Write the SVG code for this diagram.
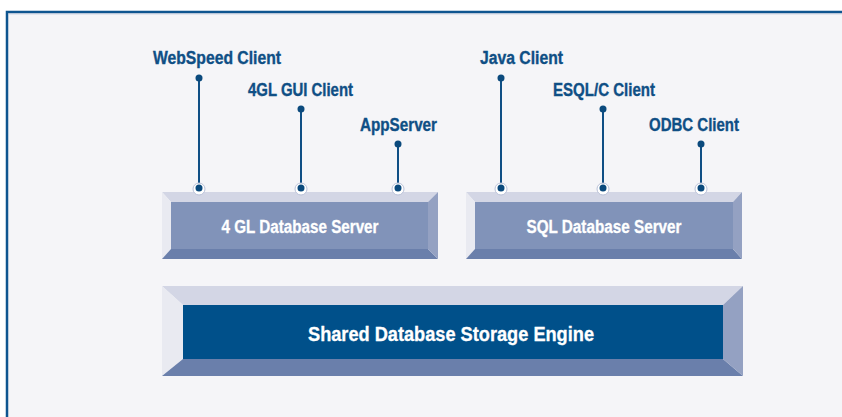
<svg xmlns="http://www.w3.org/2000/svg" width="842" height="417" viewBox="0 0 842 417">
<style>
.lbl{font-family:"Liberation Sans Narrow","Liberation Sans",Arial,sans-serif;font-weight:bold;font-size:18px;fill:#0f4f85;stroke:#0f4f85;stroke-width:0.35}
.btxt{font-family:"Liberation Sans Narrow","Liberation Sans",Arial,sans-serif;font-weight:bold;font-size:18px;fill:#ffffff;stroke:#ffffff;stroke-width:0.3}
.line{stroke:#0f4f85;stroke-width:2;fill:none}
.dot{fill:#0b4a7d}
.halo{fill:#ffffff;stroke:#b9c1d8;stroke-width:1}
.bt{fill:#d3d6e5}.bl{fill:#e9eaf1}.bb{fill:#6a7fab}.br{fill:#94a1c2}
</style>
<rect x="0" y="0" width="842" height="417" fill="#ffffff"/>
<rect x="7" y="12" width="845" height="415" fill="#f5f5f8" stroke="#0e5590" stroke-width="2.5"/>
<line x1="8.5" y1="13.8" x2="842" y2="13.8" stroke="#b8c4d8" stroke-width="1"/>

<g id="connectors">
<line class="line" x1="199" y1="78" x2="199" y2="188"/>
<line class="line" x1="301" y1="109" x2="301" y2="188"/>
<line class="line" x1="398" y1="144" x2="398" y2="188"/>
<line class="line" x1="501" y1="78" x2="501" y2="188"/>
<line class="line" x1="603" y1="109" x2="603" y2="188"/>
<line class="line" x1="701" y1="144" x2="701" y2="188"/>
<circle class="dot" cx="199" cy="78" r="3.5"/>
<circle class="dot" cx="301" cy="109" r="3.5"/>
<circle class="dot" cx="398" cy="144" r="3.5"/>
<circle class="dot" cx="501" cy="78" r="3.5"/>
<circle class="dot" cx="603" cy="109" r="3.5"/>
<circle class="dot" cx="701" cy="144" r="3.5"/>
</g>

<g id="client-webspeed"><text class="lbl" x="217" y="64" text-anchor="middle" textLength="128" lengthAdjust="spacingAndGlyphs">WebSpeed Client</text></g>
<g id="client-4glgui"><text class="lbl" x="300.5" y="96" text-anchor="middle" textLength="105" lengthAdjust="spacingAndGlyphs">4GL GUI Client</text></g>
<g id="client-appserver"><text class="lbl" x="398.5" y="131" text-anchor="middle" textLength="77" lengthAdjust="spacingAndGlyphs">AppServer</text></g>
<g id="client-java"><text class="lbl" x="521.5" y="64" text-anchor="middle" textLength="83" lengthAdjust="spacingAndGlyphs">Java Client</text></g>
<g id="client-esqlc"><text class="lbl" x="604" y="96" text-anchor="middle" textLength="102" lengthAdjust="spacingAndGlyphs">ESQL/C Client</text></g>
<g id="client-odbc"><text class="lbl" x="694" y="131" text-anchor="middle" textLength="90" lengthAdjust="spacingAndGlyphs">ODBC Client</text></g>

<g id="server-4gl">
<polygon class="bt" points="162,192 438,192 428,202 171,202"/>
<polygon class="bl" points="162,192 171,202 171,249 162,259"/>
<polygon class="bb" points="162,259 171,249 428,249 438,259"/>
<polygon class="br" points="438,192 438,259 428,249 428,202"/>
<rect x="171" y="202" width="257" height="47" fill="#8193b9"/>
<text class="btxt" x="300" y="233" text-anchor="middle" textLength="157" lengthAdjust="spacingAndGlyphs">4 GL Database Server</text>
<circle class="halo" cx="199" cy="189" r="6"/><circle class="dot" cx="199" cy="188" r="3.5"/>
<circle class="halo" cx="301" cy="189" r="6"/><circle class="dot" cx="301" cy="188" r="3.5"/>
<circle class="halo" cx="398" cy="189" r="6"/><circle class="dot" cx="398" cy="188" r="3.5"/>
</g>

<g id="server-sql">
<polygon class="bt" points="466,192 742,192 733,202 475,202"/>
<polygon class="bl" points="466,192 475,202 475,249 466,259"/>
<polygon class="bb" points="466,259 475,249 733,249 742,259"/>
<polygon class="br" points="742,192 742,259 733,249 733,202"/>
<rect x="475" y="202" width="258" height="47" fill="#8193b9"/>
<text class="btxt" x="604" y="233" text-anchor="middle" textLength="155" lengthAdjust="spacingAndGlyphs">SQL Database Server</text>
<circle class="halo" cx="501" cy="189" r="6"/><circle class="dot" cx="501" cy="188" r="3.5"/>
<circle class="halo" cx="603" cy="189" r="6"/><circle class="dot" cx="603" cy="188" r="3.5"/>
<circle class="halo" cx="701" cy="189" r="6"/><circle class="dot" cx="701" cy="188" r="3.5"/>
</g>

<g id="storage-engine">
<polygon class="bt" points="162,286 743,286 723,305 183,305"/>
<polygon class="bl" points="162,286 183,305 183,359 162,376"/>
<polygon class="bb" points="162,376 183,359 723,359 743,376"/>
<polygon class="br" points="743,286 743,376 723,359 723,305"/>
<rect x="183" y="305" width="540" height="54" fill="#00508a"/>
<text class="btxt" x="451" y="341" text-anchor="middle" style="font-size:20px" textLength="286" lengthAdjust="spacingAndGlyphs">Shared Database Storage Engine</text>
</g>
</svg>
